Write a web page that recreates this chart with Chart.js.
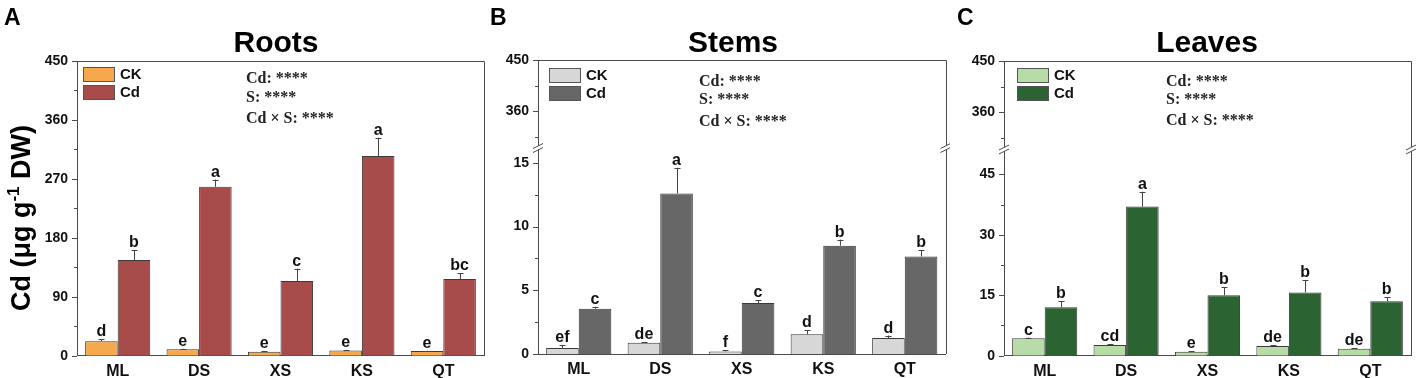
<!DOCTYPE html>
<html lang="en">
<head>
    <meta charset="UTF-8">
    <title>Cd concentration in roots, stems and leaves</title>
    <script src="https://cdn.jsdelivr.net/npm/chart.js"></script>
    <style>
        body { margin: 0; background: #fff; }
        canvas { position: absolute; top: 0; }
    </style>
</head>
<body>
    <canvas id="chartA" width="490" height="378" style="left:0px"></canvas>
    <canvas id="chartB" width="460" height="378" style="left:490px"></canvas>
    <canvas id="chartC" width="467" height="378" style="left:950px"></canvas>

    <script>
        // sites on the x axis
        const sites = ['ML', 'DS', 'XS', 'KS', 'QT'];
        const seriesNames = ['CK', 'Cd'];

        // Roots
        const rootsCK = [22, 10, 6, 8, 7];
        const rootsCKErr = [3, 0.5, 0.5, 1, 0.5];
        const rootsCd = [146, 258, 114, 305, 117];
        const rootsCdErr = [15, 11, 19, 28, 9];
        const rootsCKLetters = ['d', 'e', 'e', 'e', 'e'];
        const rootsCdLetters = ['b', 'a', 'c', 'a', 'bc'];

        // Stems
        const stemsCK = [0.47, 0.88, 0.2, 1.55, 1.25];
        const stemsCKErr = [0.25, 0.03, 0.08, 0.3, 0.2];
        const stemsCd = [3.55, 12.6, 4.0, 8.5, 7.65];
        const stemsCdErr = [0.15, 2.0, 0.2, 0.47, 0.5];
        const stemsCKLetters = ['ef', 'de', 'f', 'd', 'd'];
        const stemsCdLetters = ['c', 'a', 'c', 'b', 'b'];

        // Leaves
        const leavesCK = [4.3, 2.65, 1.0, 2.4, 1.75];
        const leavesCKErr = [0.2, 0.2, 0.1, 0.2, 0.1];
        const leavesCd = [12.0, 37.0, 15.0, 15.7, 13.5];
        const leavesCdErr = [1.5, 3.7, 2.0, 3.0, 1.0];
        const leavesCKLetters = ['c', 'cd', 'e', 'de', 'de'];
        const leavesCdLetters = ['b', 'a', 'b', 'b', 'b'];

        // y tick labels
        const rootsTicks = [0, 90, 180, 270, 360, 450];
        const rootsMinor = [45, 135, 225, 315, 405];
        const upperTicks = [360, 450];
        const upperMinor = [315, 405];
        const stemsTicks = [0, 5, 10, 15];
        const stemsMinor = [2.5, 7.5, 12.5];
        const leavesTicks = [0, 15, 30, 45];
        const leavesMinor = [7.5, 22.5, 37.5];

        const statLines = ['Cd: ****', 'S: ****', 'Cd \u00d7 S: ****'];

        const sans = '"Liberation Sans", Arial, sans-serif';
        const serif = '"Liberation Serif", "Times New Roman", serif';
        const axisColor = '#4a4a4a';
        Chart.defaults.font.family = sans;

        function yScale(range, weight, width) {
            return {
                type: 'linear',
                position: 'left',
                stack: 'left',
                stackWeight: weight,
                min: range.min,
                max: range.max,
                grid: { display: false, drawTicks: false },
                border: { color: axisColor, width: 1 },
                ticks: {
                    padding: 9,
                    autoSkip: false,
                    color: '#111',
                    font: { size: 14, weight: 'bold' }
                },
                afterBuildTicks: s => { s.ticks = range.major.map(v => ({ value: v })); },
                afterFit: s => { s.width = width; }
            };
        }

        // error bars, letters, legend, frame, break marks, titles
        const decoPlugin = {
            id: 'deco',
            afterDatasetsDraw(chart) {
                const cfg = chart.config._config.panel;
                const ctx = chart.ctx;
                const area = chart.chartArea;
                const yS = chart.scales.yLow;

                ctx.save();
                chart.data.datasets.forEach((ds, di) => {
                    const meta = chart.getDatasetMeta(di);
                    meta.data.forEach((bar, i) => {
                        const top = yS.getPixelForValue(ds.data[i] + ds.errors[i]);
                        ctx.strokeStyle = '#444';
                        ctx.lineWidth = 1;
                        ctx.beginPath();
                        ctx.moveTo(Math.round(bar.x) + 0.5, bar.y);
                        ctx.lineTo(Math.round(bar.x) + 0.5, top);
                        ctx.moveTo(Math.round(bar.x) - 2.5, Math.round(top) + 0.5);
                        ctx.lineTo(Math.round(bar.x) + 3.5, Math.round(top) + 0.5);
                        ctx.stroke();

                        ctx.fillStyle = '#111';
                        ctx.font = 'bold 16px ' + sans;
                        ctx.textAlign = 'center';
                        ctx.textBaseline = 'alphabetic';
                        ctx.fillText(ds.letters[i], bar.x, top - 3);
                    });
                });

                // frame top and right
                ctx.strokeStyle = axisColor;
                ctx.lineWidth = 1;
                ctx.beginPath();
                ctx.moveTo(area.left, Math.round(area.top) + 0.5);
                ctx.lineTo(Math.round(area.right) + 0.5, Math.round(area.top) + 0.5);
                ctx.lineTo(Math.round(area.right) + 0.5, area.bottom);
                ctx.stroke();

                // tick marks
                const scaleIds = chart.scales.yHigh ? ['yHigh', 'yLow'] : ['yLow'];
                scaleIds.forEach(id => {
                    const s = chart.scales[id];
                    const r = cfg[id === 'yHigh' ? 'high' : 'low'];
                    ctx.beginPath();
                    r.major.forEach(v => {
                        const y = Math.round(s.getPixelForValue(v)) + 0.5;
                        ctx.moveTo(area.left - 5, y);
                        ctx.lineTo(area.left, y);
                    });
                    r.minor.forEach(v => {
                        const y = Math.round(s.getPixelForValue(v)) + 0.5;
                        ctx.moveTo(area.left - 3, y);
                        ctx.lineTo(area.left, y);
                    });
                    ctx.stroke();
                });

                // axis breaks
                if (chart.scales.yHigh) {
                    const yb = chart.scales.yLow.top;
                    [area.left, area.right].forEach(x => {
                        ctx.fillStyle = '#fff';
                        ctx.fillRect(x - 2, yb - 2, 4, 4);
                        ctx.strokeStyle = axisColor;
                        ctx.beginPath();
                        ctx.moveTo(x - 5, yb + 1);
                        ctx.lineTo(x + 5, yb - 4);
                        ctx.moveTo(x - 5, yb + 5);
                        ctx.lineTo(x + 5, yb);
                        ctx.stroke();
                    });
                }

                // legend
                chart.data.datasets.forEach((ds, di) => {
                    const bx = cfg.legendX;
                    const by = cfg.legendY + di * 18;
                    ctx.fillStyle = ds.backgroundColor;
                    ctx.fillRect(bx, by, 32, 15);
                    ctx.strokeStyle = '#555';
                    ctx.strokeRect(bx + 0.5, by + 0.5, 31, 14);
                    ctx.fillStyle = '#111';
                    ctx.font = 'bold 15px ' + sans;
                    ctx.textAlign = 'left';
                    ctx.textBaseline = 'middle';
                    ctx.fillText(ds.label, bx + 37, by + 8);
                });

                // two-way ANOVA significance
                ctx.font = 'bold 16px ' + serif;
                ctx.textBaseline = 'alphabetic';
                ctx.fillStyle = '#222';
                statLines.forEach((t, i) => ctx.fillText(t, cfg.statsX, cfg.statsY[i]));

                // panel title and letter
                ctx.fillStyle = '#000';
                ctx.font = 'bold 30px ' + sans;
                ctx.textAlign = 'center';
                ctx.fillText(cfg.title, cfg.titleX, 52);
                ctx.font = 'bold 23px ' + sans;
                ctx.textAlign = 'left';
                ctx.fillText(cfg.letter, cfg.letterX, 25);

                // y axis title, only on first panel
                if (cfg.yTitle) {
                    ctx.translate(30, 218);
                    ctx.rotate(-Math.PI / 2);
                    const big = 'bold 27px ' + sans;
                    const small = 'bold 17px ' + sans;
                    const parts = [['Cd (\u03bcg g', big, 0], ['-1', small, -11], [' DW)', big, 0]];
                    let w = 0;
                    parts.forEach(p => { ctx.font = p[1]; w += ctx.measureText(p[0]).width; });
                    let x = -w / 2;
                    parts.forEach(p => {
                        ctx.font = p[1];
                        ctx.fillText(p[0], x, p[2]);
                        x += ctx.measureText(p[0]).width;
                    });
                }
                ctx.restore();
            }
        };

        function makePanel(canvasId, cfg) {
            const scales = {
                x: {
                    type: 'category',
                    offset: true,
                    grid: { display: false, drawTicks: false },
                    border: { color: axisColor, width: 1 },
                    ticks: { padding: 6, color: '#111', font: { size: 16, weight: 'bold' } },
                    afterFit: s => { s.height = cfg.xAxisH; }
                }
            };
            // lower segment first so the upper one is stacked above it
            scales.yLow = yScale(cfg.low, cfg.low.weight, cfg.yWidth);
            if (cfg.high) {
                scales.yHigh = yScale(cfg.high, cfg.high.weight, cfg.yWidth);
            }

            const datasets = cfg.series.map((s, i) => ({
                label: seriesNames[i],
                data: s.values,
                errors: s.errors,
                letters: s.letters,
                backgroundColor: s.color,
                borderColor: '#3a3a3a',
                borderWidth: 1,
                yAxisID: 'yLow',
                categoryPercentage: 0.8,
                barPercentage: 1.0
            }));

            new Chart(document.getElementById(canvasId), {
                type: 'bar',
                data: { labels: sites, datasets: datasets },
                panel: cfg,
                options: {
                    responsive: false,
                    animation: false,
                    layout: { padding: { top: cfg.top, right: cfg.right, left: 0, bottom: 0 } },
                    scales: scales,
                    plugins: { legend: { display: false }, tooltip: { enabled: false } }
                },
                plugins: [decoPlugin]
            });
        }

        makePanel('chartA', {
            title: 'Roots', titleX: 276, letter: 'A', letterX: 4, yTitle: true,
            top: 61, right: 6, yWidth: 77, xAxisH: 22.3,
            legendX: 83, legendY: 67, statsX: 246, statsY: [83, 102, 123],
            low: { min: 0, max: 450, major: rootsTicks, minor: rootsMinor, weight: 1 },
            series: [
                { values: rootsCK, errors: rootsCKErr, letters: rootsCKLetters, color: '#f6a84c' },
                { values: rootsCd, errors: rootsCdErr, letters: rootsCdLetters, color: '#a84b4b' }
            ]
        });

        makePanel('chartB', {
            title: 'Stems', titleX: 243, letter: 'B', letterX: 0,
            top: 60, right: 4.5, yWidth: 48, xAxisH: 24,
            legendX: 59, legendY: 68, statsX: 209, statsY: [86, 104, 126],
            high: { min: 295.6, max: 450, major: upperTicks, minor: upperMinor, weight: 87.5 },
            low: { min: 0, max: 16.2, major: stemsTicks, minor: stemsMinor, weight: 206.5 },
            series: [
                { values: stemsCK, errors: stemsCKErr, letters: stemsCKLetters, color: '#d7d7d7' },
                { values: stemsCd, errors: stemsCdErr, letters: stemsCdLetters, color: '#676767' }
            ]
        });

        makePanel('chartC', {
            title: 'Leaves', titleX: 257, letter: 'C', letterX: 7,
            top: 61, right: 6, yWidth: 54, xAxisH: 22.3,
            legendX: 67, legendY: 68, statsX: 216, statsY: [86, 104, 125],
            high: { min: 295.6, max: 450, major: upperTicks, minor: upperMinor, weight: 88 },
            low: { min: 0, max: 51.3, major: leavesTicks, minor: leavesMinor, weight: 206.7 },
            series: [
                { values: leavesCK, errors: leavesCKErr, letters: leavesCKLetters, color: '#b8dca8' },
                { values: leavesCd, errors: leavesCdErr, letters: leavesCdLetters, color: '#2c6332' }
            ]
        });
    </script>
</body>
</html>
